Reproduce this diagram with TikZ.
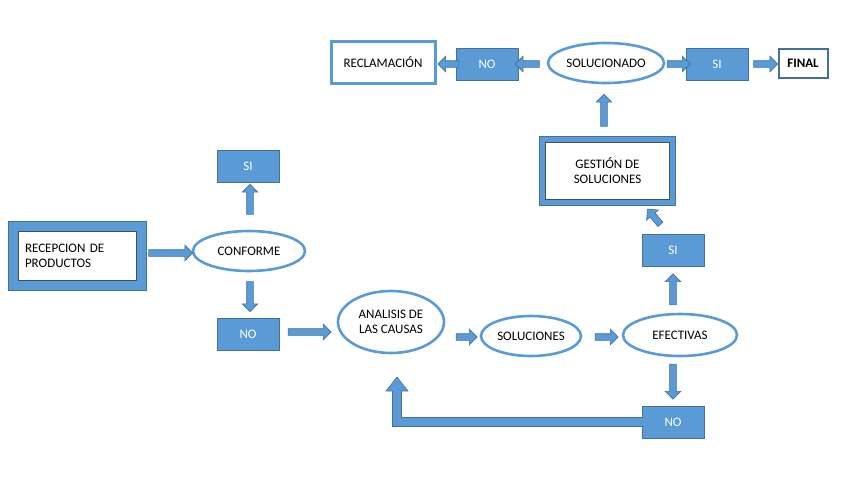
\documentclass[tikz,border=0pt]{standalone}
\usepackage{fontspec}
\setmainfont{Carlito}
\usetikzlibrary{shapes.geometric,shapes.arrows}
\definecolor{bl}{HTML}{5B9BD5}
\definecolor{bld}{HTML}{41719C}
\begin{document}
\begin{tikzpicture}[x=1pt,y=-1pt,font=\fontsize{13}{15}\selectfont,
 box/.style={rectangle,fill=bl,draw=bld,line width=0.8,text=white,minimum width=62,minimum height=32},
 ell/.style={ellipse,draw=bl,line width=2.6,double=none,fill=white,align=center,inner sep=0},
 ellb/.style={ellipse,draw=bld,line width=0.6,fill=none},
 frame/.style={rectangle,draw=bl,fill=white,align=left},
 barr/.style={single arrow,fill=bl,draw=bld,line width=0.6,inner sep=3,minimum width=15,single arrow head extend=4.5}]
\useasboundingbox (0,0) rectangle (848,477);
% nodes
\node[rectangle,fill=bl,draw=bld,minimum width=138,minimum height=69] (rf) at (77,255.5) {};
\node[frame,draw=black!70,line width=0.5,minimum width=118,minimum height=49,text width=104] (rec) at (77,255.5) {RECEPCION DE\\PRODUCTOS};
\node[ell,minimum width=112,minimum height=40] (conf) at (249,251) {CONFORME};
\node[box] (si1) at (248,166) {SI};
\node[box] (no1) at (248,334) {NO};
\node[ell,minimum width=106,minimum height=62] (an) at (391,322) {ANALISIS DE\\LAS CAUSAS};
\node[ell,minimum width=100,minimum height=40] (sol) at (531,336) {SOLUCIONES};
\node[ell,minimum width=114,minimum height=42] (ef) at (680,335) {EFECTIVAS};
\node[box] (no2) at (673,422) {NO};
\node[box] (si2) at (673,250) {SI};
\node[rectangle,fill=bl,draw=bld,minimum width=136,minimum height=69] (gf) at (607.5,171) {};
\node[frame,draw=black!70,line width=0.5,minimum width=124,minimum height=57,align=center] (ges) at (607.5,171) {GESTIÓN DE\\SOLUCIONES};
\node[ell,minimum width=116,minimum height=40] (sn) at (606,63) {SOLUCIONADO};
\node[box] (no3) at (487,64) {NO};
\node[box] (si3) at (717,64) {SI};
\node[frame,line width=3,minimum width=104,minimum height=42] (recl) at (383,62) {RECLAMACIÓN};
\node[frame,draw=bld,line width=2,minimum width=49,minimum height=29,font=\fontsize{13}{15}\selectfont\bfseries] (fin) at (803,63) {FINAL};
% block arrows
\node[barr,minimum height=44] (a1) at (169,253) {};
\node[barr,minimum height=30,rotate=90] (a2) at (250,201) {};
\node[barr,minimum height=30,rotate=-90] (a3) at (250,295) {};
\node[barr,minimum height=43] (a4) at (308,332) {};
\node[barr,minimum height=21] (a5) at (465,337) {};
\node[barr,minimum height=23] (a6) at (605,337) {};
\node[barr,minimum height=35,rotate=-90] (a7) at (673,380) {};
\node[barr,minimum height=31,rotate=90] (a8) at (673,291) {};
\node[barr,minimum height=20,rotate=130] (a9) at (655,218) {};
\node[barr,minimum height=32,rotate=90] (a10) at (604,112) {};
\node[barr,minimum height=24,rotate=180] (a11) at (529,64) {};
\node[barr,minimum height=21,rotate=180] (a12) at (450,64) {};
\node[barr,minimum height=23] (a13) at (677,64) {};
\node[barr,minimum height=24] (a14) at (764,64) {};
% L-shaped return arrow
\coordinate (lb) at (397,422);
\coordinate (lt) at (397,390);
\draw[bld,line width=9.6] (no2.west) -- (lb) -- (lt);
\draw[bl,line width=8] ([xshift=1]no2.west) -- (lb) -- ([yshift=1]lt);
\fill[bl,draw=bld,line width=0.6] (386,391) -- (397,377) -- (408,391) -- cycle;
\fill[bl] (393.2,390) rectangle (400.8,392);
\end{tikzpicture}
\end{document}
